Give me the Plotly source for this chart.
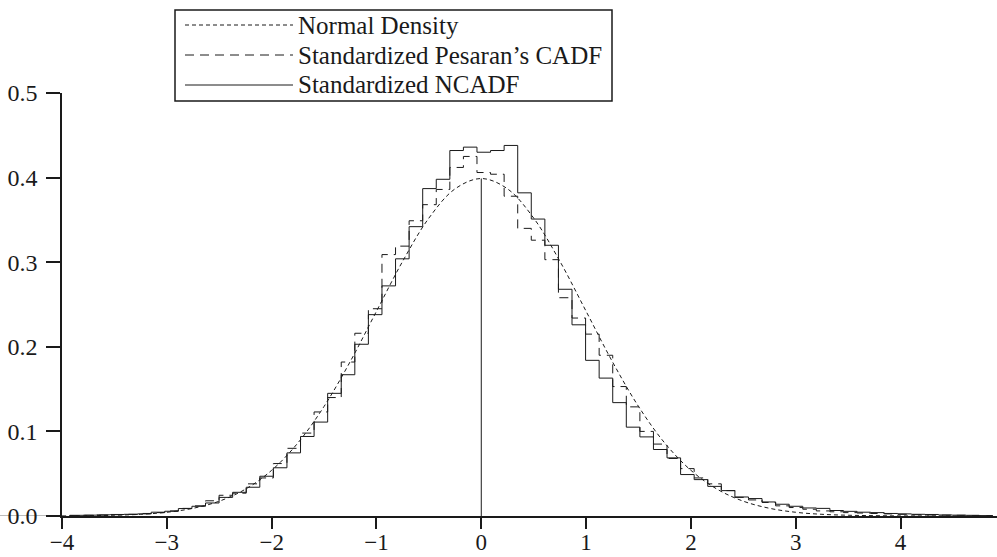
import numpy as np
import plotly.graph_objects as go

# ---------------- data ----------------
BIN_START = -3.926
BIN_WIDTH = 0.1295

# Standardized NCADF histogram heights (density), bins from BIN_START
NCADF = [0.0008, 0.001, 0.0014, 0.0018, 0.002, 0.0025, 0.0045, 0.0056, 0.0088, 0.0115,
         0.0154, 0.022, 0.028, 0.034, 0.047, 0.057, 0.0746, 0.094, 0.111, 0.145,
         0.167, 0.203, 0.238, 0.272, 0.304, 0.342, 0.387, 0.398, 0.432, 0.436,
         0.430, 0.432, 0.438, 0.382, 0.351, 0.320, 0.268, 0.226, 0.184, 0.163,
         0.134, 0.105, 0.0935, 0.0786, 0.0687, 0.049, 0.043, 0.035, 0.030, 0.0225,
         0.0206, 0.0166, 0.0139, 0.0115, 0.0095, 0.009, 0.0065, 0.0055, 0.0045, 0.004,
         0.003, 0.0025, 0.002, 0.0018, 0.0012, 0.001, 0.0008, 0.0005]

# Standardized Pesaran's CADF histogram heights
CADF = [0.0005, 0.0008, 0.001, 0.0015, 0.002, 0.003, 0.004, 0.006, 0.009, 0.012,
        0.018, 0.0245, 0.027, 0.038, 0.045, 0.062, 0.080, 0.098, 0.123, 0.140,
        0.182, 0.216, 0.245, 0.309, 0.319, 0.349, 0.368, 0.386, 0.412, 0.425,
        0.406, 0.404, 0.378, 0.340, 0.326, 0.303, 0.258, 0.234, 0.215, 0.190,
        0.153, 0.129, 0.100, 0.085, 0.068, 0.056, 0.045, 0.038, 0.030, 0.022,
        0.019, 0.016, 0.012, 0.010, 0.008, 0.006, 0.005, 0.004, 0.0035, 0.003,
        0.0025, 0.002, 0.0015, 0.0012, 0.001, 0.0008, 0.0005, 0.0004]

# Normal density, read at steps of 0.25
NORMAL_X = [-4.0, -3.75, -3.5, -3.25, -3.0, -2.75, -2.5, -2.25, -2.0, -1.75,
            -1.5, -1.25, -1.0, -0.75, -0.5, -0.25, 0.0, 0.25, 0.5, 0.75,
            1.0, 1.25, 1.5, 1.75, 2.0, 2.25, 2.5, 2.75, 3.0, 3.25,
            3.5, 3.75, 4.0, 4.25, 4.5, 4.75]
NORMAL_Y = [0.0001, 0.0004, 0.0009, 0.0020, 0.0044, 0.0091, 0.0175, 0.0317, 0.0540, 0.0863,
            0.1295, 0.1826, 0.2420, 0.3011, 0.3521, 0.3867, 0.3989, 0.3867, 0.3521, 0.3011,
            0.2420, 0.1826, 0.1295, 0.0863, 0.0540, 0.0317, 0.0175, 0.0091, 0.0044, 0.0020,
            0.0009, 0.0004, 0.0001, 0.00005, 0.00002, 0.000005]

LEGEND_LABELS = ["Normal Density", "Standardized Pesaran\u2019s CADF", "Standardized NCADF"]
X_TICKS = [-4, -3, -2, -1, 0, 1, 2, 3, 4]
Y_TICKS = [0.0, 0.1, 0.2, 0.3, 0.4, 0.5]

# ---------------- figure ----------------
FONT = "Liberation Serif"
INK = "#1a1a1a"
W, H = 997, 557
ML, MR, MT, MB = 62, 0, 93, 41

edges_n = BIN_START + BIN_WIDTH * np.arange(len(NCADF) + 1)
edges_c = BIN_START + BIN_WIDTH * np.arange(len(CADF) + 1)

fig = go.Figure()
fig.add_trace(go.Scatter(x=NORMAL_X, y=NORMAL_Y, mode="lines", line_shape="spline",
                         line=dict(color=INK, width=1, dash="4px,3px"),
                         name=LEGEND_LABELS[0], showlegend=False))
fig.add_trace(go.Scatter(x=edges_c, y=list(CADF) + [CADF[-1]], mode="lines", line_shape="hv",
                         line=dict(color=INK, width=1, dash="9px,6px"),
                         name=LEGEND_LABELS[1], showlegend=False))
fig.add_trace(go.Scatter(x=edges_n, y=list(NCADF) + [NCADF[-1]], mode="lines", line_shape="hv",
                         line=dict(color=INK, width=1),
                         name=LEGEND_LABELS[2], showlegend=False))
peak = NORMAL_Y[NORMAL_X.index(0.0)]
fig.add_trace(go.Scatter(x=[0, 0], y=[0, peak], mode="lines",
                         line=dict(color=INK, width=1), showlegend=False, hoverinfo="skip"))

# custom legend (pixel positions converted to paper coords)
pw = W - ML - MR
ph = H - MT - MB

def px(x):
    return (x - ML) / pw

def py(y):
    return (H - MB - y) / ph

shapes = [dict(type="rect", xref="paper", yref="paper", x0=px(175), x1=px(612), y0=py(10), y1=py(101),
               line=dict(color=INK, width=1.5), fillcolor="white", layer="above"),
          # faint baseline running through the 0.0 label, as in the original
          dict(type="line", xref="paper", yref="y", x0=px(0), x1=0, y0=0, y1=0,
               line=dict(color="#777777", width=1), layer="below")]
dashes = ["4px,3px", "9px,6px", "solid"]
rows = [25, 55, 85]
annotations = []
for lab, d, r in zip(LEGEND_LABELS, dashes, rows):
    shapes.append(dict(type="line", xref="paper", yref="paper", x0=px(185), x1=px(293), y0=py(r), y1=py(r),
                       line=dict(color=INK, width=1, dash=d), layer="above"))
    annotations.append(dict(xref="paper", yref="paper", x=px(298), y=py(r), text=lab, showarrow=False,
                            xanchor="left", yanchor="middle", xshift=-2,
                            font=dict(family=FONT, size=25, color=INK)))

fig.update_layout(
    width=W, height=H, margin=dict(l=ML, r=MR, t=MT, b=MB, autoexpand=False),
    plot_bgcolor="white", paper_bgcolor="white",
    shapes=shapes, annotations=annotations, showlegend=False,
    font=dict(family=FONT, size=24, color=INK),
)
fig.update_xaxes(range=[-4, 4.92], tickvals=X_TICKS, ticks="outside", ticklen=11, tickwidth=1.5,
                 tickcolor=INK, showline=True, linewidth=1.5, linecolor=INK, showgrid=False,
                 zeroline=False, automargin=False, ticklabelstandoff=-6,
                 tickfont=dict(family=FONT, size=23, color=INK))
fig.update_yaxes(range=[0, 0.5], tickvals=Y_TICKS, tickformat=".1f", ticks="outside", ticklen=14,
                 tickwidth=1.5, tickcolor=INK, showline=True, linewidth=1.5, linecolor=INK,
                 showgrid=False, zeroline=False, automargin=False, ticklabelstandoff=4,
                 tickfont=dict(family=FONT, size=24, color=INK))

fig.write_html("out.html", config={"displayModeBar": False},
               post_script="document.body.style.margin='0px';document.body.style.overflow='hidden';")
